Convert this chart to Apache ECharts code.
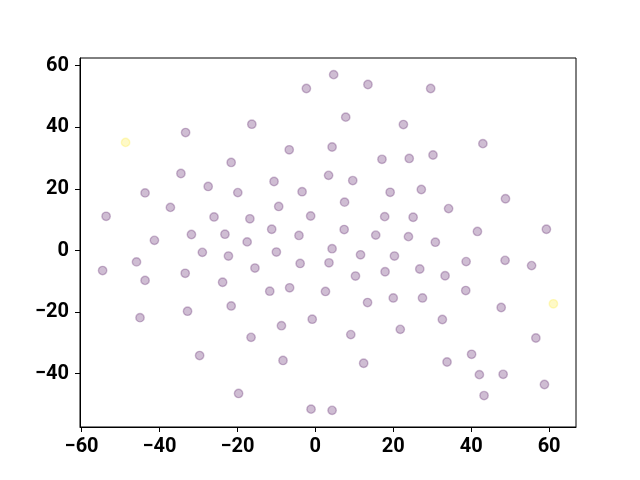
<!DOCTYPE html>
<html><head><meta charset="utf-8">
<script src="https://cdn.jsdelivr.net/npm/echarts@6/dist/echarts.min.js"></script>
<style>html,body{margin:0;padding:0;background:#fff}#c{width:640px;height:480px}</style>
</head><body><div id="c"></div>
<script>
const xs = [-33.3,-48.7,-21.6,-34.5,-27.5,-43.7,-19.9,-37.2,-53.7,-26.0,-16.8,-31.8,-23.2,-41.3,-17.5,-16.3,4.7,-2.3,13.5,7.8,22.6,-6.7,4.3,17.1,24.1,-10.6,3.4,9.6,-3.4,19.2,-9.4,7.5,-1.2,17.8,25.1,-11.2,-4.2,7.4,15.5,23.9,4.3,29.6,43.0,30.2,27.2,48.8,34.2,41.6,59.3,30.8,-29.0,-22.3,-45.9,-54.6,-43.7,-33.4,-23.8,-21.6,-32.8,-45.0,-16.5,-29.7,-19.7,-10.0,11.6,20.3,-15.5,-3.9,3.5,10.3,17.9,-11.7,-6.6,2.6,13.4,20.0,-8.7,-0.8,9.1,21.8,-8.3,12.4,-1.1,4.3,26.8,38.7,48.7,55.5,33.3,27.5,38.6,47.7,61.1,32.6,56.6,40.1,33.8,42.1,48.2,58.8,43.3];
const ys = [38.3,35.1,28.6,25.0,20.8,18.7,18.8,14.0,11.1,10.9,10.3,5.2,5.3,3.3,2.8,41.0,57.1,52.6,53.9,43.3,40.9,32.7,33.6,29.6,29.9,22.4,24.4,22.7,19.1,18.9,14.3,15.7,11.2,11.0,10.8,6.9,4.9,6.8,5.0,4.5,0.6,52.6,34.7,31.0,19.8,16.8,13.6,6.2,6.9,2.7,-0.6,-1.8,-3.7,-6.5,-9.7,-7.4,-10.3,-18.0,-19.7,-21.8,-28.2,-34.1,-46.4,-0.5,-1.4,-1.8,-5.7,-4.2,-4.0,-8.3,-6.9,-13.2,-12.1,-13.3,-16.9,-15.4,-24.4,-22.3,-27.3,-25.6,-35.7,-36.6,-51.5,-51.9,-6.0,-3.6,-3.2,-4.9,-8.2,-15.4,-13.0,-18.5,-17.3,-22.4,-28.4,-33.7,-36.2,-40.3,-40.2,-43.5,-47.1];
const cls = xs.map(()=>0);
cls[1] = 1; cls[92] = 1;
const xTicks = [-60,-40,-20,0,20,40,60];
const yTicks = [-40,-20,0,20,40,60];
const classColors = ['rgba(68,1,84,0.32)', 'rgba(253,231,37,0.32)'];

const fmt = v => (v < 0 ? '\u2212' + Math.abs(v) : String(v));
const labelStyle = {fontFamily:'Roboto', fontWeight:'bold', fontSize:20, color:'#000'};
const chart = echarts.init(document.getElementById('c'), null, {renderer:'canvas'});
chart.setOption({
  animation:false,
  grid:{left:80, top:58, right:64, bottom:53, show:true, borderColor:'#000', borderWidth:1, backgroundColor:'transparent'},
  xAxis:{type:'value', min:-60.4, max:66.9,
    axisLine:{show:true, onZero:false, lineStyle:{color:'#000', width:1}},
    axisTick:{show:true, inside:false, length:5, customValues:xTicks, lineStyle:{color:'#000'}},
    axisLabel:Object.assign({customValues:xTicks, margin:10, formatter:fmt}, labelStyle),
    splitLine:{show:false}},
  yAxis:{type:'value', min:-57.3, max:62.5,
    axisLine:{show:true, onZero:false, lineStyle:{color:'#000', width:1}},
    axisTick:{show:true, inside:false, length:5, customValues:yTicks, lineStyle:{color:'#000'}},
    axisLabel:Object.assign({customValues:yTicks, margin:11, formatter:fmt}, labelStyle),
    splitLine:{show:false}},
  series:[{type:'scatter', symbolSize:8.4,
    data: xs.map((x,i)=>({value:[x, ys[i]], itemStyle:{color:classColors[cls[i]], borderColor:classColors[cls[i]], borderWidth:1.4}}))
  }]
});
</script></body></html>
